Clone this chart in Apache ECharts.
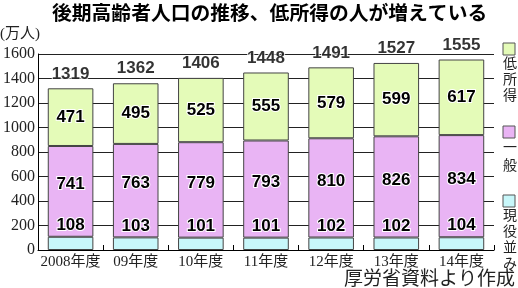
<!DOCTYPE html>
<html><head><meta charset="utf-8">
<script src="https://cdn.jsdelivr.net/npm/echarts@6/dist/echarts.min.js"></script>
<style>html,body{margin:0;padding:0;background:#fff}#c{width:518px;height:288px}</style>
</head><body><div id="c"></div>
<script>
var categories = ['2008年度','09年度','10年度','11年度','12年度','13年度','14年度'];
var genekiNami = [108,103,101,101,102,102,104];
var ippan = [741,763,779,793,810,826,834];
var teishotoku = [471,495,525,555,579,599,617];
var totals = [1319,1362,1406,1448,1491,1527,1555];
var yTicks = [0,200,400,600,800,1000,1200,1400,1600];

var cCyan = '#c8f7fa', cViolet = '#e9b4f4', cGreen = '#e4fbb8';
var valLabel = {show:true, color:'#000', fontFamily:'Liberation Sans, Arial, sans-serif', fontWeight:'bold', fontSize:17, textBorderColor:'#fff', textBorderWidth:2};
var chart = echarts.init(document.getElementById('c'), null, {renderer:'canvas'});
function vtext(str, x, y0, step){
  return str.split('').map(function(ch,i){
    return {type:'text', left:x, top:y0+i*step, style:{text:ch, fontSize:14, fontFamily:'Noto Sans CJK JP', fill:'#222'}};
  });
}
var graphics = [
  {type:'text', left:52, top:3, style:{text:'後期高齢者人口の推移、低所得の人が増えている', fontSize:19.8, fontWeight:'bold', fontFamily:'Noto Sans CJK JP', fill:'#000'}},
  {type:'text', left:0, top:27, style:{text:'(万人)', fontSize:15, fontFamily:'Liberation Serif, Noto Sans CJK JP', fill:'#222'}},
  {type:'text', right:3, top:268, style:{text:'厚労省資料より作成', fontSize:19, fontFamily:'Noto Sans CJK JP', fill:'#222'}},
  {type:'rect', shape:{x:503,y:43,width:12,height:12}, style:{fill:cGreen, stroke:'#555', lineWidth:1}},
  {type:'rect', shape:{x:503,y:126,width:12,height:12}, style:{fill:cViolet, stroke:'#555', lineWidth:1}},
  {type:'rect', shape:{x:503,y:195,width:12,height:12}, style:{fill:cCyan, stroke:'#555', lineWidth:1}}
].concat(vtext('低所得',503,56,16)).concat(vtext('一般',503,140,18)).concat(vtext('現役並み',503,208,16));

chart.setOption({
  animation:false,
  grid:{left:37, right:24, top:54, bottom:38},
  xAxis:{type:'category', data:categories,
    axisLine:{show:true, lineStyle:{color:'#000', width:1}},
    axisTick:{show:true, inside:true, length:5, lineStyle:{color:'#000'}},
    axisLabel:{interval:0, color:'#222', fontSize:15, fontFamily:'Liberation Serif, Noto Sans CJK JP', margin:5}},
  yAxis:{type:'value', min:0, max:1600, interval:200,
    axisLine:{show:true, lineStyle:{color:'#000', width:1}},
    axisTick:{show:false},
    splitLine:{show:true, lineStyle:{color:'#222', width:1}},
    axisLabel:{color:'#222', fontSize:16, fontFamily:'Liberation Serif, serif', margin:3,
      formatter:function(v){return yTicks.indexOf(v)>=0 ? String(v) : '';}}},
  series:[
    {name:'現役並み', type:'bar', stack:'a', data:genekiNami, barWidth:'70%',
      itemStyle:{color:cCyan, borderColor:'#444', borderWidth:1},
      label:Object.assign({}, valLabel, {position:'top', distance:3}), z:3},
    {name:'一般', type:'bar', stack:'a', data:ippan,
      itemStyle:{color:cViolet, borderColor:'#444', borderWidth:1},
      label:Object.assign({}, valLabel, {position:'inside', offset:[0,-7]}), z:2},
    {name:'低所得', type:'bar', stack:'a', data:teishotoku,
      itemStyle:{color:cGreen, borderColor:'#444', borderWidth:1},
      label:Object.assign({}, valLabel, {position:'inside'}), z:2},
    {name:'total', type:'scatter', data:totals, symbolSize:2, symbol:'circle',
      itemStyle:{color:'rgba(0,0,0,0)'},
      label:{show:true, position:'top', distance:5, color:'#000', fontFamily:'Liberation Sans, Arial, sans-serif', fontWeight:'bold', fontSize:17, textBorderColor:'#fff', textBorderWidth:2}, z:5}
  ],
  graphic:graphics
});
</script></body></html>
